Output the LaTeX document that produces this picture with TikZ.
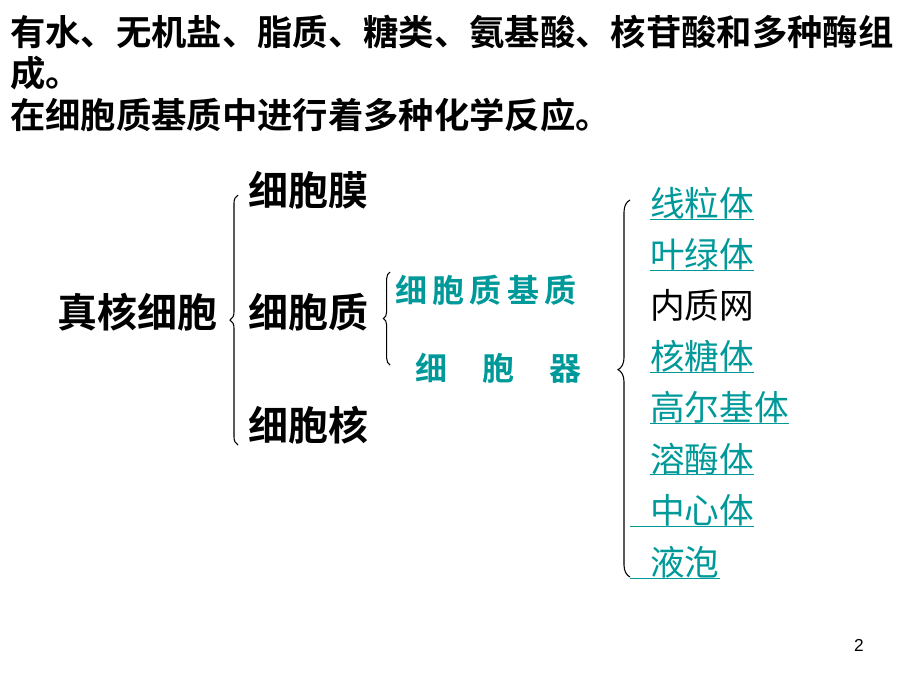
\documentclass[tikz,border=0pt]{standalone}
\usepackage{fontspec}
\setmainfont{Liberation Sans}
\newfontfamily\cjk{Noto Sans CJK SC}
\newfontfamily\cjkb{Noto Sans CJK SC Bold}
\usetikzlibrary{decorations.pathreplacing}
\definecolor{teal}{HTML}{009999}
\newcommand\orgline[1]{\setbox0\hbox{#1}\rlap{\rule[-2.5pt]{\wd0}{0.9pt}}\box0}
\tikzset{%
    top line/.style={
      anchor=west,
      inner sep=0pt,
      font=\cjkb\fontsize{26.5}{26.5}\selectfont
    },
    part/.style={
      anchor=west,
      inner sep=0pt,
      font=\cjkb\fontsize{30}{30}\selectfont
    },
    sub part/.style={
      anchor=west,
      inner sep=0pt,
      text=teal,
      font=\cjkb\fontsize{24}{24}\selectfont
    },
    organelle/.style={
      anchor=west,
      inner sep=0pt,
      text=teal,
      font=\cjk\fontsize{26}{26}\selectfont
    },
    grouping/.style={
      decorate,
      decoration={brace, amplitude=#1},
      line width=0.8pt
    }
  }

\begin{document}
\begin{tikzpicture}[x=0.75pt, y=-0.75pt]
      \useasboundingbox (0,0) rectangle (920,690);

      \node [top line] (t1) at (10,32) {有水、无机盐、脂质、糖类、氨基酸、核苷酸和多种酶组};
      \node [top line] (t2) at (10,73) {成。};
      \node [top line] (t3) at (10,115) {在细胞质基质中进行着多种化学反应。};

      \node [part] (cell) at (57,312) {真核细胞};
      \node [part] (mem) at (248,190) {细胞膜};
      \node [part] (cyt) at (248,312) {细胞质};
      \node [part] (nuc) at (248,425) {细胞核};

      \node [sub part] (mat) at (395,290) {细\,胞\,质\,基\,质};
      \node [sub part] (org) at (415,368) {细\hspace{1.1em}胞\hspace{1.1em}器};

      \node [organelle] (o1) at (650,204) {\orgline{线粒体}};
      \node [organelle] (o2) at (650,255) {\orgline{叶绿体}};
      \node [organelle, text=black] (o3) at (650,305) {内质网};
      \node [organelle] (o4) at (650,357) {\orgline{核糖体}};
      \node [organelle] (o5) at (650,408) {\orgline{高尔基体}};
      \node [organelle] (o6) at (650,459) {\orgline{溶酶体}};
      \node [organelle] (o7) at (630,511) {\orgline{\hspace{15pt}中心体}};
      \node [organelle] (o8) at (630,563) {\orgline{\hspace{15pt}液泡}};

      \node [anchor=center, font=\fontsize{13}{13}\selectfont] (num) at (859,645) {2};

      \coordinate (b1s) at (238,445);
      \coordinate (b1e) at (238,195);
      \coordinate (b2s) at (390,365);
      \coordinate (b2e) at (390,272);
      \coordinate (b3s) at (630,577);
      \coordinate (b3e) at (630,200);

      \draw [grouping=6pt] (b1s) -- (b1e);
      \draw [grouping=5pt] (b2s) -- (b2e);
      \draw [grouping=9pt, decoration={aspect=0.55}] (b3s) -- (b3e);
    \end{tikzpicture}
\end{document}
